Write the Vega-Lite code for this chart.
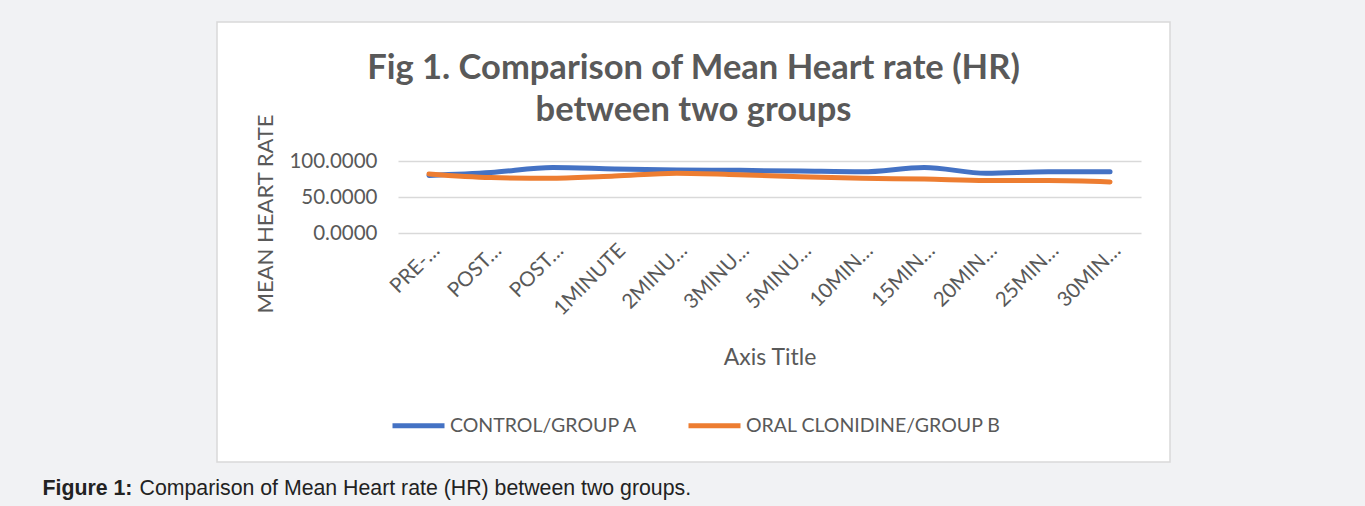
{
  "$schema": "https://vega.github.io/schema/vega-lite/v6.json",
  "width": 953,
  "height": 440,
  "autosize": {"type": "none"},
  "padding": {"left": 217, "top": 22, "right": 195, "bottom": 44},
  "background": "#f1f2f4",
  "config": {
    "view": {"fill": "white", "stroke": "#d9d9d9", "strokeWidth": 1.5},
    "font": "Lato"
  },
  "title": {
    "text": ["Fig 1. Comparison of Mean Heart rate (HR)", "between two groups"],
    "font": "Lato",
    "fontSize": 34.5,
    "fontWeight": "bold",
    "color": "#595959",
    "anchor": "middle",
    "frame": "group",
    "lineHeight": 42,
    "offset": -106
  },
  "data": {
    "values": [
      {"cat": "PRE-INDUCTION", "group": "CONTROL/GROUP A", "hr": 80},
      {"cat": "POST-INDUCTION", "group": "CONTROL/GROUP A", "hr": 84},
      {"cat": "POST-INTUBATION", "group": "CONTROL/GROUP A", "hr": 91},
      {"cat": "1MINUTE", "group": "CONTROL/GROUP A", "hr": 89},
      {"cat": "2MINUTES", "group": "CONTROL/GROUP A", "hr": 87.5},
      {"cat": "3MINUTES", "group": "CONTROL/GROUP A", "hr": 87},
      {"cat": "5MINUTES", "group": "CONTROL/GROUP A", "hr": 86},
      {"cat": "10MINUTES", "group": "CONTROL/GROUP A", "hr": 85},
      {"cat": "15MINUTES", "group": "CONTROL/GROUP A", "hr": 91},
      {"cat": "20MINUTES", "group": "CONTROL/GROUP A", "hr": 83},
      {"cat": "25MINUTES", "group": "CONTROL/GROUP A", "hr": 85},
      {"cat": "30MINUTES", "group": "CONTROL/GROUP A", "hr": 85},
      {"cat": "PRE-INDUCTION", "group": "ORAL CLONIDINE/GROUP B", "hr": 82},
      {"cat": "POST-INDUCTION", "group": "ORAL CLONIDINE/GROUP B", "hr": 77},
      {"cat": "POST-INTUBATION", "group": "ORAL CLONIDINE/GROUP B", "hr": 76},
      {"cat": "1MINUTE", "group": "ORAL CLONIDINE/GROUP B", "hr": 79},
      {"cat": "2MINUTES", "group": "ORAL CLONIDINE/GROUP B", "hr": 83},
      {"cat": "3MINUTES", "group": "ORAL CLONIDINE/GROUP B", "hr": 81},
      {"cat": "5MINUTES", "group": "ORAL CLONIDINE/GROUP B", "hr": 78},
      {"cat": "10MINUTES", "group": "ORAL CLONIDINE/GROUP B", "hr": 76},
      {"cat": "15MINUTES", "group": "ORAL CLONIDINE/GROUP B", "hr": 75},
      {"cat": "20MINUTES", "group": "ORAL CLONIDINE/GROUP B", "hr": 73},
      {"cat": "25MINUTES", "group": "ORAL CLONIDINE/GROUP B", "hr": 73},
      {"cat": "30MINUTES", "group": "ORAL CLONIDINE/GROUP B", "hr": 71}
    ]
  },
  "layer": [
    {
      "transform": [{"filter": "datum.group == 'CONTROL/GROUP A'"}],
      "mark": {"type": "line", "strokeWidth": 5, "interpolate": "monotone", "strokeCap": "round", "strokeJoin": "round"},
      "encoding": {
        "x": {
          "field": "cat",
          "type": "ordinal",
          "scale": {
            "type": "point",
            "padding": 0.5,
            "range": [181, 924],
            "domain": ["PRE-INDUCTION", "POST-INDUCTION", "POST-INTUBATION", "1MINUTE", "2MINUTES", "3MINUTES", "5MINUTES", "10MINUTES", "15MINUTES", "20MINUTES", "25MINUTES", "30MINUTES"]
          },
          "axis": {
            "orient": "bottom",
            "offset": -229,
            "title": "Axis Title",
            "domain": false,
            "ticks": false,
            "grid": false,
            "labelAngle": -45,
            "labelAlign": "right",
            "labelBaseline": "top",
            "labelPadding": 7,
            "labelFont": "Lato",
            "labelFontSize": 20.5,
            "labelColor": "#595959",
            "labelExpr": "length(datum.label) <= 7 ? datum.label : substring(datum.label, 0, indexof(datum.label, 'P') == 0 ? 4 : 5) + '…'",
            "titleFont": "Lato",
            "titleFontSize": 23,
            "titleFontWeight": "normal",
            "titleColor": "#595959",
            "titleBaseline": "alphabetic",
            "titleY": 131
          }
        },
        "y": {
          "field": "hr",
          "type": "quantitative",
          "scale": {"domain": [0, 100], "range": [211, 139], "nice": false, "zero": true},
          "axis": {
            "orient": "left",
            "offset": -181,
            "title": "MEAN HEART RATE",
            "values": [0, 50, 100],
            "domain": false,
            "ticks": false,
            "grid": true,
            "gridColor": "#d9d9d9",
            "gridWidth": 1.5,
            "labelExpr": "format(datum.value, '.4f')",
            "labelFont": "Lato",
            "labelFontSize": 20.5,
            "labelColor": "#595959",
            "labelPadding": 21,
            "titleFont": "Lato",
            "titleFontSize": 22,
            "titleFontWeight": "normal",
            "titleColor": "#595959",
            "titleAngle": -90,
            "titleAlign": "center",
            "titleBaseline": "alphabetic",
            "titleX": -126,
            "titleY": 191.5
          }
        },
        "color": {
          "field": "group",
          "type": "nominal",
          "scale": {"domain": ["CONTROL/GROUP A", "ORAL CLONIDINE/GROUP B"], "range": ["#4472c4", "#ed7d31"]},
          "legend": {
            "orient": "none",
            "legendX": 173,
            "legendY": 375,
            "direction": "horizontal",
            "title": null,
            "symbolType": "stroke",
            "symbolSize": 2704,
            "symbolStrokeWidth": 5,
            "labelFont": "Lato",
            "labelFontSize": 19.5,
            "labelColor": "#595959",
            "labelLimit": 400,
            "labelOffset": 3,
            "columnPadding": 40
          }
        }
      }
    },
    {
      "transform": [{"filter": "datum.group == 'ORAL CLONIDINE/GROUP B'"}],
      "mark": {"type": "line", "strokeWidth": 5, "interpolate": "monotone", "strokeCap": "round", "strokeJoin": "round"},
      "encoding": {
        "x": {
          "field": "cat",
          "type": "ordinal",
          "axis": {
            "orient": "bottom",
            "title": "Comparison of Mean Heart rate (HR) between two groups.",
            "labels": false,
            "ticks": false,
            "domain": false,
            "grid": false,
            "titleX": -78,
            "titleY": 32,
            "titleAlign": "left",
            "titleBaseline": "alphabetic",
            "titleFont": "Liberation Sans",
            "titleFontSize": 21.3,
            "titleFontWeight": "normal",
            "titleColor": "#222222"
          }
        },
        "y": {
          "field": "hr",
          "type": "quantitative",
          "axis": {
            "orient": "left",
            "title": "Figure 1:",
            "labels": false,
            "ticks": false,
            "domain": false,
            "grid": false,
            "titleAngle": 0,
            "titleX": -175,
            "titleY": 472,
            "titleAlign": "left",
            "titleBaseline": "alphabetic",
            "titleFont": "Liberation Sans",
            "titleFontSize": 21.3,
            "titleFontWeight": "bold",
            "titleColor": "#222222"
          }
        },
        "color": {"field": "group", "type": "nominal"}
      }
    }
  ],
  "resolve": {"axis": {"x": "independent", "y": "independent"}}
}
